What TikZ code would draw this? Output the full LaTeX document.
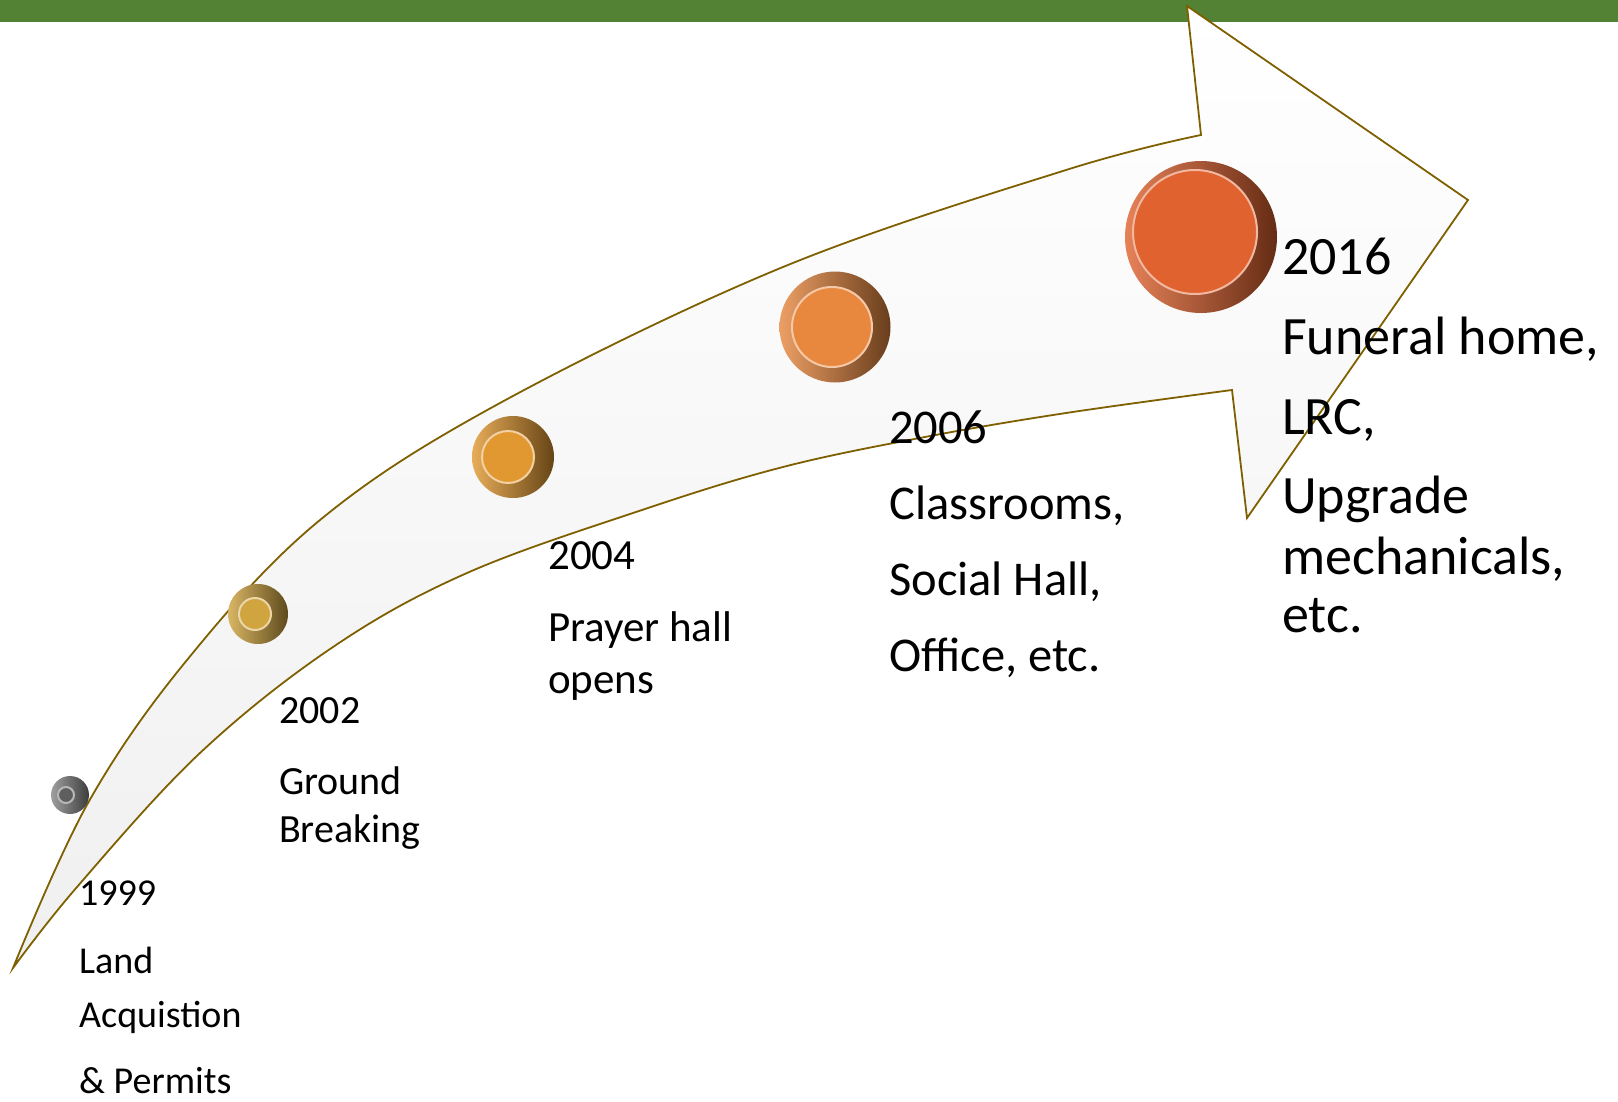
\documentclass[tikz,border=0pt]{standalone}
\usepackage{fontspec}
\setmainfont{Carlito}
\usepackage{tikz}
\usetikzlibrary{positioning}
\definecolor{barGreen}{RGB}{84,130,53}
\definecolor{edgeOlive}{RGB}{127,96,0}
\definecolor{silver}{RGB}{135,135,135}
\definecolor{gold}{RGB}{208,164,62}
\definecolor{amber}{RGB}{226,152,48}
\definecolor{tangerine}{RGB}{232,135,62}
\definecolor{rust}{RGB}{224,98,46}
\tikzset{rim/.style={circle,inner sep=0pt,left color=#1!80!white,right color=#1!45!black},
         face/.style={circle,inner sep=0pt,fill=#1,draw=#1!45!white,line width=2pt}}
\tikzstyle{year}=[anchor=north west,inner sep=0pt,align=left]
\tikzstyle{arrowbody}=[draw=edgeOlive,line width=1.8pt,line join=miter,top color=white,bottom color=gray!12]

\begin{document}
\begin{tikzpicture}[x=1pt,y=-1pt]
	\useasboundingbox (0,0) rectangle (1618,1101);
	\fill[barGreen] (0,0) rectangle (1618,22);
	
	% the big curved arrow
	\path[arrowbody] plot[smooth,tension=0.6] coordinates {(13,968) (88,803) (187,660) (320,520) (500,403) (783,267) (1066,170) (1201,135)}
		-- (1187,6) -- (1468,200) -- (1247,518) -- (1232,390)
		-- plot[smooth,tension=0.6] coordinates {(1232,390) (1066,413) (925,437) (783,467) (642,510) (467,573) (333,647) (200,753) (77,887) (13,968)} -- cycle;
	
	% beads
	\node (b1) [rim=silver,minimum size=38pt] at (70,795) {};
	\node [face=silver!70!black,minimum size=16pt,xshift=-4pt] at (b1) {};
	\node (b2) [rim=gold,minimum size=60pt] at (258,614) {};
	\node [face=gold,minimum size=32pt,xshift=-3pt] at (b2) {};
	\node (b3) [rim=amber,minimum size=82pt] at (513,457) {};
	\node [face=amber,minimum size=52pt,xshift=-5pt] at (b3) {};
	\node (b4) [rim=tangerine,minimum size=111pt] at (835,327) {};
	\node [face=tangerine,minimum size=80pt,xshift=-3pt] at (b4) {};
	\node (b5) [rim=rust,minimum size=152pt] at (1201,237) {};
	\node [face=rust,minimum size=124pt,xshift=-6pt,yshift=5pt] at (b5) {};
	
	% labels
	\node (t1) [year,font=\fontsize{38}{54}\selectfont] at (79,881) {1999\\[14pt]Land\\Acquistion\\[12pt]\& Permits};
	\node (t2) [year,font=\fontsize{40}{48}\selectfont] at (279,697) {2002\\[23pt]Ground\\Breaking};
	\node (t3) [year,font=\fontsize{43}{52}\selectfont] at (548,541) {2004\\[20pt]Prayer hall\\opens};
	\node (t4) [year,font=\fontsize{48.5}{76}\selectfont] at (889,411) {2006\\Classrooms,\\Social Hall,\\Office, etc.};
	\node (t5) [year,font=\fontsize{54}{58}\selectfont] at (1282,238) {2016\\[22pt]Funeral home,\\[22pt]LRC,\\[21pt]Upgrade\\[3pt]mechanicals,\\etc.};
\end{tikzpicture}
\end{document}
